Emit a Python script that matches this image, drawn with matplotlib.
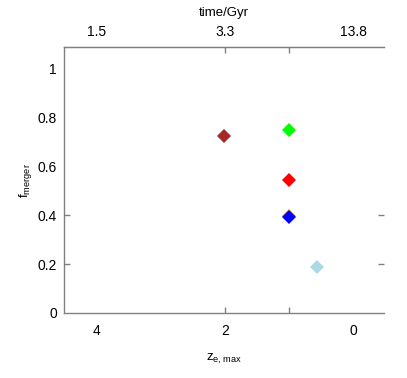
import numpy as np
import matplotlib.pyplot as plt

plt.rcParams['font.family'] = ['Liberation Sans', 'DejaVu Sans']
plt.rcParams['font.size'] = 9.5

# merger fractions vs. maximum redshift
z_max = [2.02, 1.0, 1.0, 1.0, 1.0, 0.57]
f_merger = [0.724, 0.751, 0.543, 0.397, 0.393, 0.188]
colours = ['#a52a2a', '#00ff00', '#ff0000', '#ffa500', '#0000ff', '#add8e6']

top_ticks = [4, 2, 0]
top_labels = ['1.5', '3.3', '13.8']
bottom_ticks = [4, 2, 0]
y_ticks = [0, 0.2, 0.4, 0.6, 0.8, 1]
y_labels = ['0', '0.2', '0.4', '0.6', '0.8', '1']

grey = '#808080'

fig = plt.figure(figsize=(4.07, 3.78), dpi=100)
ax = fig.add_axes([64 / 407, 1 - 313 / 378, 320 / 407, 266 / 378])

for x, y, c in zip(z_max, f_merger, colours):
    ax.plot(x, y, 'D', color=c, ms=7.2, mew=0, zorder=3)

ax.set_xlim(4.5, -0.47)
ax.set_ylim(0, 1.09)

ax.xaxis.remove_overlapping_locs = False
ax.yaxis.remove_overlapping_locs = False
ax.set_xticks(bottom_ticks)
ax.set_xticklabels([str(t) for t in bottom_ticks])
ax.set_xticks([2, 1], minor=True)
ax.set_yticks(y_ticks)
ax.set_yticklabels(y_labels)
ax.set_yticks([0.2, 0.4], minor=True)

ax.tick_params(which='major', length=0, pad=8, labelsize=10)
ax.tick_params(axis='y', which='major', pad=5)
ax.tick_params(which='minor', direction='in', length=4.5, width=1, color=grey,
               left=True, right=True, bottom=True, top=False)

for side in ['left', 'bottom', 'top']:
    ax.spines[side].set_color(grey)
    ax.spines[side].set_linewidth(1)
ax.spines['right'].set_visible(False)

ax.set_xlabel(r'z$_\mathregular{e,max}$', labelpad=10)
ax.set_ylabel(r'f$_\mathregular{merger}$', labelpad=3)

# time axis along the top
ax2 = ax.twiny()
ax2.set_xlim(ax.get_xlim())
ax2.xaxis.remove_overlapping_locs = False
ax2.set_xticks(top_ticks)
ax2.set_xticklabels(top_labels)
ax2.set_xticks([2, 1], minor=True)
ax2.tick_params(which='major', length=0, pad=6, labelsize=10)
ax2.tick_params(which='minor', direction='in', length=4.5, width=1, color=grey)
for side in ['left', 'right', 'bottom']:
    ax2.spines[side].set_visible(False)
ax2.spines['top'].set_color(grey)
ax2.set_xlabel('time/Gyr', labelpad=6)

fig.savefig('out.png', dpi=100)
